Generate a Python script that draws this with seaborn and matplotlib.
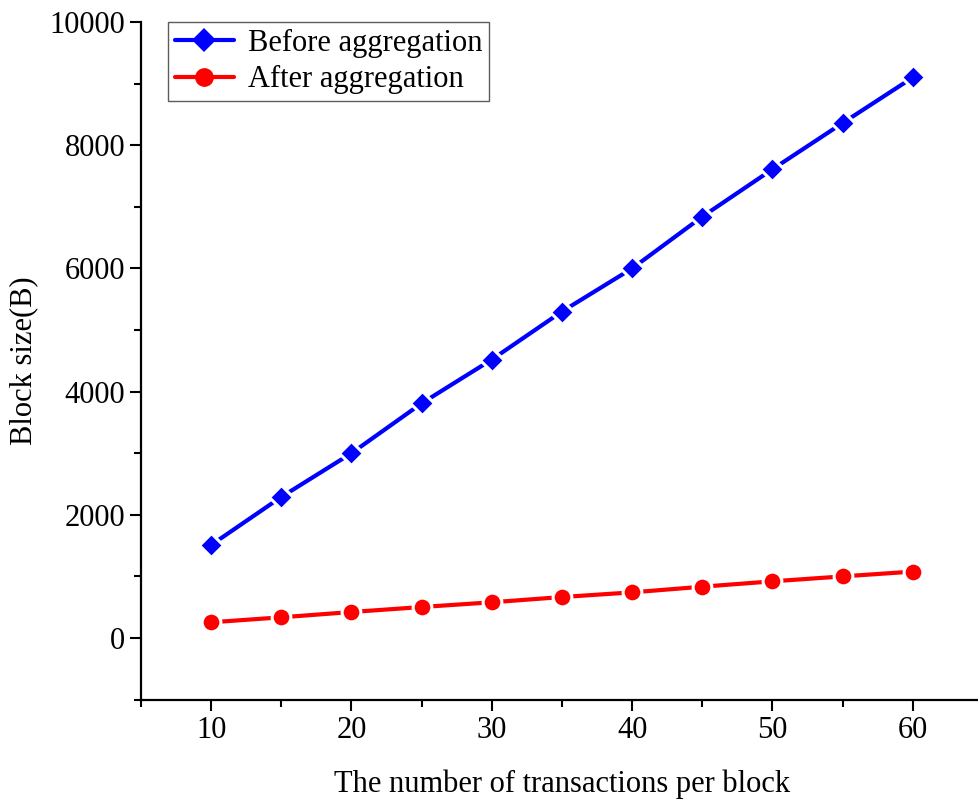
import numpy as np
import pandas as pd
import seaborn as sns
import matplotlib.pyplot as plt
from matplotlib.ticker import MultipleLocator

# data
tx = [10, 15, 20, 25, 30, 35, 40, 45, 50, 55, 60]
before = [1510, 2290, 3000, 3810, 4520, 5300, 6000, 6840, 7610, 8360, 9100]
after = [255, 336, 422, 503, 580, 665, 741, 833, 920, 1000, 1078]
names = ['Before aggregation', 'After aggregation']

df = pd.DataFrame({
    'tx': tx * 2,
    'size': before + after,
    'series': [names[0]] * len(tx) + [names[1]] * len(tx),
})

sns.set_theme(style='ticks')
plt.rcParams['font.family'] = ['Liberation Serif', 'DejaVu Serif']
plt.rcParams['text.color'] = 'black'
plt.rcParams['axes.labelcolor'] = 'black'
plt.rcParams['xtick.color'] = 'black'
plt.rcParams['ytick.color'] = 'black'

fig = plt.figure(figsize=(9.79, 8), dpi=100)
ax = fig.add_axes([141 / 979, 100.4 / 800, 842 / 979, 677.6 / 800])

sns.lineplot(data=df, x='tx', y='size', hue='series', style='series',
             markers=['D', 'o'], dashes=False, palette=['#0000ff', '#ff0000'],
             markersize=12, markeredgecolor='white', markeredgewidth=2.2,
             linewidth=3, ax=ax)
for ln in ax.lines:
    if ln.get_marker() == 'o':
        ln.set_markersize(13.5)

ax.set_xlim(5, 65)
ax.set_ylim(-1000, 10000)
ax.xaxis.set_major_locator(MultipleLocator(10))
ax.xaxis.set_minor_locator(MultipleLocator(5))
ax.yaxis.set_major_locator(MultipleLocator(2000))
ax.yaxis.set_minor_locator(MultipleLocator(1000))
ax.set_xticks(range(10, 61, 10))

for s in ['top', 'right']:
    ax.spines[s].set_visible(False)
for s in ['left', 'bottom']:
    ax.spines[s].set_linewidth(1.6)
    ax.spines[s].set_color('black')
ax.tick_params(which='major', direction='out', length=8, width=1.5, labelsize=22)
ax.tick_params(which='minor', direction='out', length=5, width=1.5)

ax.set_xlabel('The number of transactions per block', fontsize=22, labelpad=18)
ax.set_ylabel('Block size(B)', fontsize=22, labelpad=8)

# legend box in the top left, square corners
leg = ax.legend(loc='upper left', bbox_to_anchor=(0.032, 1.0), borderaxespad=0,
                fontsize=22, frameon=True, fancybox=False, edgecolor='#333333',
                handlelength=1.95, handletextpad=0.45, borderpad=0.22,
                labelspacing=0.25)
leg.get_frame().set_linewidth(1.0)
for h in leg.legend_handles:
    h.set_markeredgecolor(h.get_color())
    h.set_markeredgewidth(0)

fig.savefig('out.png', dpi=100)
